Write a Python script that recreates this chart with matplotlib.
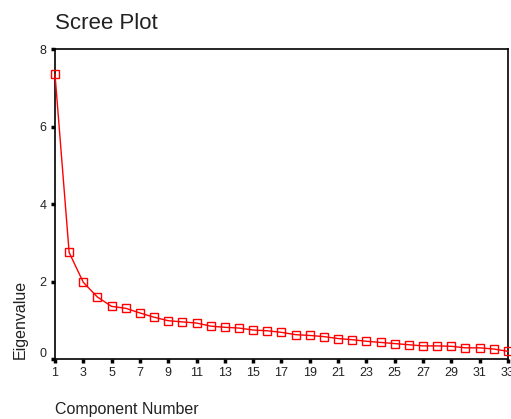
import matplotlib
matplotlib.use("Agg")
import matplotlib.pyplot as plt
import matplotlib.transforms as mtransforms
import numpy as np

# eigenvalues
components = np.arange(1, 34)
eigenvalues = [7.35, 2.75, 1.98, 1.60, 1.36, 1.31, 1.19, 1.08, 0.99, 0.96,
               0.93, 0.85, 0.82, 0.80, 0.75, 0.73, 0.69, 0.63, 0.61, 0.58,
               0.53, 0.50, 0.46, 0.43, 0.40, 0.37, 0.34, 0.34, 0.33, 0.29,
               0.29, 0.26, 0.20]
xticks = list(range(1, 34, 2))
yticks = [0, 2, 4, 6, 8]

plt.rcParams['font.family'] = ['Liberation Sans', 'DejaVu Sans']

fig = plt.figure(figsize=(5.11, 4.19), dpi=100)
ax = fig.add_axes([0.1076, 0.143, 0.8864, 0.740])

ax.plot(components, eigenvalues, color='red', linewidth=1.0,
        marker='s', markersize=5.5, markerfacecolor='none',
        markeredgecolor='red', markeredgewidth=1.0, clip_on=False, zorder=3)

ax.set_xlim(1, 33)
ax.set_ylim(0, 8)
ax.set_xticks(xticks)
ax.set_yticks(yticks)
ax.tick_params(direction='out', length=3, width=2.5, labelsize=9, pad=3,
               labelcolor='#222222')
for s in ax.spines.values():
    s.set_linewidth(1.2)
    s.set_color('black')

# the "0" label sits a little above the x axis, as in the original
lbl0 = ax.get_yticklabels()[0]
lbl0.set_transform(lbl0.get_transform() +
                   mtransforms.ScaledTranslation(0, 7 / 100, fig.dpi_scale_trans))

fig.text(0.1076, 0.945, "Scree Plot", fontsize=16, ha='left', va='center', color='#222222')
fig.text(0.1076, 0.022, "Component Number", fontsize=11.5, ha='left', va='center', color='#222222')
fig.text(0.04, 0.143, "Eigenvalue", fontsize=11.5, rotation=90, ha='center', va='bottom', color='#222222')

fig.savefig("out.png", dpi=100)
